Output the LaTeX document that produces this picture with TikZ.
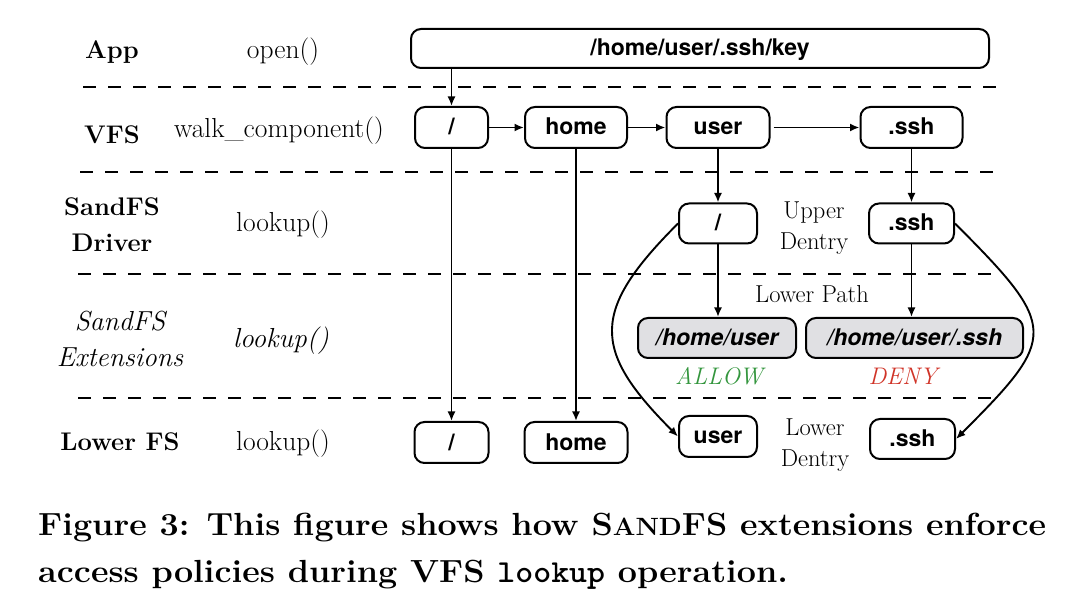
\documentclass[tikz,border=0pt]{standalone}
\usepackage{fontspec}
\usepackage{graphicx}
\newfontfamily\heros{TeX Gyre Heros}
\usetikzlibrary{arrows.meta}
\definecolor{allowgreen}{RGB}{52,150,62}
\definecolor{denyred}{RGB}{208,52,40}
\definecolor{extgray}{RGB}{224,224,227}
\begin{document}
\begin{tikzpicture}[x=1pt,y=-1pt,
  box/.style={draw, line width=2pt, rounded corners=10pt, inner sep=0pt,
    text height=15pt, text depth=0pt, font={\heros\bfseries\fontsize{23}{27}\selectfont}},
  extbox/.style={box, fill=extgray, font={\heros\bfseries\itshape\fontsize{23}{27}\selectfont}},
  arr/.style={line width=1.9pt, -{Latex[length=9.5pt,width=8pt]}},
  sep/.style={line width=2pt, dash pattern=on 13pt off 12pt},
  lay/.style={font={\bfseries\fontsize{25.5}{36.7}\selectfont}, align=center, inner sep=0pt},
  fn/.style={font={\fontsize{27.5}{30}\selectfont}, inner sep=0pt},
  fnit/.style={font={\itshape\fontsize{27.5}{30}\selectfont}, inner sep=0pt},
  note/.style={font={\fontsize{24.5}{31}\selectfont}, align=center, inner sep=0pt},
  verdict/.style={font={\itshape\fontsize{24}{28}\selectfont}, inner sep=0pt},
]
\useasboundingbox (0,0) rectangle (1074,601);

% separators
\draw[sep] (83,87) -- (1001,87);
\draw[sep] (80,172) -- (1001,172);
\draw[sep] (78,274) -- (998,274);
\draw[sep] (78,398) -- (1000,398);

% layer labels
\node[lay, anchor=base] (appL) at (112,59) {App};
\node[fn, anchor=base] (openL) at (283,59) {open()};
\node[lay, anchor=base] (vfsL) at (112,144) {VFS};
\node[fn, anchor=base] (walkL) at (279,138) {walk\_component()};
\node[lay] (drvL) at (112,224.6) {SandFS\\Driver};
\node[fn, anchor=base] (lk1) at (283,231.7) {lookup()};
\node[font={\itshape\fontsize{27.5}{36.7}\selectfont}, align=center, inner sep=0pt] (extL) at (120,339) {SandFS\\Extensions};
\node[fnit, anchor=base] (lk2) at (281,348) {lookup()};
\node[lay, anchor=base] (lowL) at (120,450.7) {Lower FS};
\node[fn, anchor=base] (lk3) at (283,450.7) {lookup()};

% boxes
\node[box, minimum width=578pt, minimum height=39pt] (path) at (700,48.5) {/home/user/.ssh/key};
\node[box, minimum width=73pt, minimum height=41pt] (v1) at (451.5,127.5) {/};
\node[box, minimum width=102pt, minimum height=41pt] (v2) at (576,127.5) {home};
\node[box, minimum width=103pt, minimum height=41pt] (v3) at (718,127.5) {user};
\node[box, minimum width=102pt, minimum height=41pt] (v4) at (911.5,127.5) {.ssh};
\node[box, minimum width=78pt, minimum height=40pt] (d1) at (718,223.5) {/};
\node[box, minimum width=85pt, minimum height=40pt] (d2) at (911.5,223.5) {.ssh};
\node[extbox, minimum width=158pt, minimum height=40pt] (e1) at (717,338) {/home/user};
\node[extbox, minimum width=217pt, minimum height=40pt] (e2) at (914.5,338) {/home/user/.ssh};
\node[box, minimum width=74pt, minimum height=41pt] (l1) at (451.5,442.5) {/};
\node[box, minimum width=103pt, minimum height=41pt] (l2) at (576,442.5) {home};
\node[box, minimum width=78pt, minimum height=41pt] (l3) at (718,436.5) {user};
\node[box, minimum width=85pt, minimum height=40pt] (l4) at (912.5,439) {.ssh};

% annotations
\node[note] (upL) at (814,228.6) {Upper\\Dentry};
\node[note, anchor=base] (lpL) at (812,303) {Lower Path};
\node[note] (ldL) at (815,445.3) {Lower\\Dentry};
\node[verdict, text=allowgreen, anchor=base] (allow) at (719,385) {ALLOW};
\node[verdict, text=denyred, anchor=base] (deny) at (903,385) {DENY};

% connectors
\draw[arr] (path.south -| v1) -- (v1.north);
\draw[arr] (v1.east) -- (v2.west);
\draw[arr] (v2.east) -- (v3.west);
\draw[arr, shorten <=3pt] (v3.east) -- (v4.west);
\draw[arr] (v1.south) -- (l1.north);
\draw[arr] (v2.south) -- (l2.north);
\draw[arr] (v3.south) -- (d1.north);
\draw[arr] (v4.south) -- (d2.north);
\draw[arr] (d1.south) -- (d1.south |- e1.north);
\draw[arr] (d2.south) -- (d2.south |- e2.north);
\draw[arr] (d1.west) .. controls +(-87,87) and +(-87,-87) .. (l3.west);
\draw[arr] (d2.east) .. controls +(104,104) and +(102,-102) .. (l4.east);

% caption
\node[anchor=base west, inner sep=0pt] (cap) at (38,535) {\resizebox{1008pt}{\height}{\fontsize{32}{47}\selectfont\bfseries\begin{tabular}[t]{@{}l@{}}Figure 3: This figure shows how S{\fontsize{25}{30}\selectfont AND}FS extensions enforce\\ access policies during VFS {\ttfamily lookup} operation.\end{tabular}}};
\end{tikzpicture}
\end{document}
